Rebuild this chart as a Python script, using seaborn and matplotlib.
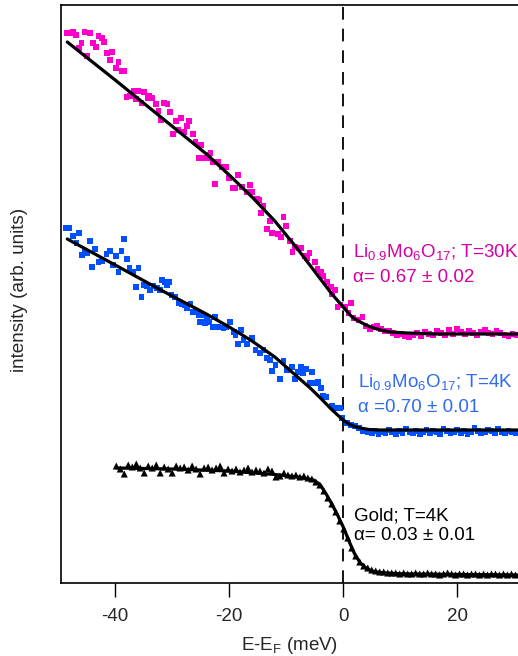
import matplotlib
matplotlib.use("Agg")
import matplotlib.pyplot as plt
import seaborn as sns

# ------------------------------------------------------------
# Data (E - E_F in meV, intensity in arb. units)
# ------------------------------------------------------------

# Li0.9Mo6O17, T=30K (magenta squares)
mag_e = [-48.5, -47.9, -47.4, -46.9, -46.4, -45.9, -45.4, -44.9, -44.4, -43.9,
         -43.4, -42.9, -42.3, -41.9, -41.4, -40.9, -40.5, -39.9, -39.4, -38.8,
         -38.4, -38.0, -37.4, -36.8, -36.4, -35.9, -35.4, -34.9, -34.3, -34.0,
         -33.5, -32.9, -32.4, -31.9, -31.4, -30.8, -30.4, -29.9, -29.3, -28.9,
         -28.4, -27.9, -27.4, -27.0, -26.4, -25.9, -25.4, -24.9, -24.4, -23.9,
         -23.6, -23.3, -22.9, -22.5, -21.9, -21.3, -20.5, -20.0, -19.4, -18.9,
         -18.5, -17.8, -16.9, -16.4, -15.9, -15.1, -14.7, -14.4, -14.0, -13.4,
         -12.9, -12.5, -11.5, -10.9, -10.5, -10.0, -9.4, -8.9, -8.4, -7.8,
         -7.4, -6.7, -6.3, -5.9, -5.0, -4.5, -3.9, -3.5, -2.9, -2.1,
         -2.0, -1.4, -1.0, -0.5, 0.4, 0.9, 1.3, 1.8, 2.7, 3.4,
         3.9, 4.7, 5.3, 5.9, 6.6, 7.3, 8.0, 8.7, 9.4, 10.1,
         10.8, 11.5, 12.2, 12.9, 13.6, 14.3, 15.0, 15.7, 16.4, 17.1,
         17.8, 18.5, 19.2, 19.9, 20.6, 21.3, 22.0, 22.7, 23.4, 24.1,
         24.8, 25.5, 26.2, 26.9, 27.6, 28.3, 29.0, 29.7, 30.4]
mag_i = [550, 550, 551, 548, 535, 540, 551, 527, 550, 540,
         536, 547, 545, 541, 530, 523, 531, 515, 521, 512,
         512, 486, 487, 492, 484, 492, 480, 491, 485, 487,
         485, 479, 472, 463, 480, 479, 471, 449, 462, 453,
         465, 451, 457, 462, 449, 441, 425, 438, 425, 425,
         428, 430, 421, 399, 421, 416, 416, 405, 395, 395,
         408, 396, 391, 398, 391, 384, 383, 370, 377, 354,
         362, 350, 349, 346, 366, 357, 342, 331, 336, 335,
         335, 327, 325, 330, 321, 314, 311, 307, 301, 296,
         289, 293, 276, 278, 276, 270, 280, 265, 263, 266,
         257, 254, 256, 257, 254, 252, 252, 250, 248, 249,
         247, 246, 248, 250, 247, 251, 249, 248, 252, 250,
         248, 253, 249, 254, 251, 249, 252, 250, 248, 251,
         253, 250, 249, 252, 250, 248, 247, 249, 248]
mag_fit_e = [-48.4, -40.0, -32.0, -24.0, -20.0, -16.0, -12.0, -8.0, -4.0, -2.0,
             0.0, 1.2, 2.0, 3.0, 4.0, 5.3, 6.5, 8.3, 11.2, 16.0, 22.0, 30.7]
mag_fit_i = [541, 503, 466, 429, 408, 386, 362, 334, 304, 289,
             276, 268, 264, 261, 258, 255, 253, 251, 250, 249, 249, 249]

# Li0.9Mo6O17, T=4K (blue squares)
blue_e = [-48.6, -48.0, -47.4, -46.8, -46.4, -45.8, -45.4, -45.0, -44.4, -44.0,
          -43.5, -42.9, -42.3, -41.5, -40.9, -40.4, -39.9, -39.4, -38.9, -38.4,
          -37.9, -37.5, -36.9, -36.4, -35.9, -35.4, -34.9, -34.4, -33.9, -33.3,
          -32.7, -32.2, -31.8, -31.2, -30.9, -30.5, -30.1, -29.5, -28.9, -28.3,
          -27.7, -27.4, -26.8, -26.4, -25.7, -25.4, -25.1, -24.8, -24.5, -24.2,
          -23.9, -23.6, -22.9, -22.5, -21.9, -21.0, -20.5, -19.9, -19.2, -18.9,
          -18.5, -17.9, -17.5, -16.9, -16.0, -15.4, -14.6, -14.0, -13.4, -12.8,
          -12.5, -11.9, -11.1, -10.5, -9.9, -9.0, -8.4, -8.0, -7.4, -7.0,
          -6.5, -5.9, -5.5, -4.9, -4.4, -3.9, -3.5, -3.0, -2.0, -1.4,
          -0.5, -0.2, 0.6, 1.3, 2.0, 2.8, 3.5, 4.4, 5.0, 5.6,
          6.2, 6.8, 7.4, 8.0, 8.6, 9.2, 9.8, 10.4, 11.0, 11.6,
          12.2, 12.8, 13.4, 14.0, 14.6, 15.2, 15.8, 16.4, 17.0, 17.6,
          18.2, 18.8, 19.4, 20.0, 20.6, 21.2, 21.8, 22.4, 23.0, 23.6,
          24.2, 24.8, 25.4, 26.0, 26.6, 27.2, 27.8, 28.4, 29.0, 29.6,
          30.2]
blue_i = [355, 355, 347, 340, 350, 328, 331, 330, 342, 316,
          334, 321, 322, 329, 332, 318, 327, 311, 332, 344,
          324, 315, 311, 296, 315, 286, 298, 297, 293, 297,
          295, 293, 303, 301, 298, 301, 288, 286, 280, 279,
          278, 275, 279, 271, 271, 268, 261, 268, 261, 260,
          265, 261, 256, 266, 256, 255, 256, 261, 251, 248,
          239, 253, 243, 239, 245, 233, 230, 233, 225, 223,
          212, 218, 204, 222, 213, 216, 204, 211, 216, 210,
          214, 200, 211, 200, 201, 195, 187, 186, 177, 175,
          175, 165, 160, 158, 157, 155, 152, 151, 150, 152,
          149, 151, 150, 153, 151, 149, 152, 150, 154, 151,
          150, 152, 149, 151, 153, 150, 152, 151, 149, 154,
          152, 150, 151, 153, 150, 152, 149, 151, 155, 152,
          150, 151, 153, 152, 150, 154, 151, 150, 152, 151,
          150]
blue_fit_e = [-48.4, -40.0, -32.0, -24.0, -20.0, -16.0, -12.0, -8.0, -5.8, -4.0,
              -2.3, -1.0, 0.0, 1.0, 2.0, 3.0, 4.5, 6.0, 30.7]
blue_fit_i = [344, 318, 293, 269, 256, 242, 226, 206, 195, 185,
              175, 168, 163, 159, 156.5, 155, 153.5, 153, 153]

# Gold, T=4K (black triangles)
gold_e = [-39.8, -39.1, -38.4, -37.7, -37.0, -36.3, -35.6, -34.9, -34.2, -33.5,
          -32.8, -32.1, -31.4, -30.7, -30.0, -29.3, -28.6, -27.9, -27.2, -26.5,
          -25.8, -25.1, -24.4, -23.7, -23.0, -22.3, -21.6, -20.9, -20.2, -19.5,
          -18.8, -18.1, -17.4, -16.7, -16.0, -15.3, -14.6, -13.9, -13.2, -12.5,
          -11.8, -11.1, -10.4, -9.7, -9.0, -8.3, -7.6, -6.9, -6.2, -5.5,
          -4.8, -4.1, -3.4, -2.7, -2.0, -1.3, -0.6, 0.1, 0.8, 1.5,
          2.2, 2.9, 3.6, 4.3, 5.0, 5.7, 6.4, 7.1, 7.8, 8.5,
          9.2, 9.9, 10.6, 11.3, 12.0, 12.7, 13.4, 14.1, 14.8, 15.5,
          16.2, 16.9, 17.6, 18.3, 19.0, 19.7, 20.4, 21.1, 21.8, 22.5,
          23.2, 23.9, 24.6, 25.3, 26.0, 26.7, 27.4, 28.1, 28.8, 29.5,
          30.2]
gold_i = [117, 114, 109, 118, 116, 119, 115, 110, 117, 115,
          118, 110, 116, 114, 110, 117, 115, 116, 113, 117,
          114, 109, 115, 116, 113, 115, 117, 110, 114, 112,
          114, 111, 113, 115, 111, 113, 112, 110, 114, 112,
          106, 107, 110, 108, 107, 108, 106, 107, 105, 104,
          101, 98, 92, 85, 79, 71, 62, 54, 45, 35,
          27, 21, 17, 15, 13, 12, 11, 11, 10, 10,
          10, 9, 10, 9, 9, 10, 9, 9, 10, 9,
          9, 8, 9, 10, 9, 8, 9, 9, 8, 9,
          9, 8, 9, 8, 9, 9, 8, 9, 8, 9,
          8]
gold_fit_e = [-39.7, -30.0, -20.0, -12.0, -8.0, -5.2, -4.0, -3.0, -2.0, -1.0,
              0.0, 1.0, 2.0, 3.0, 4.0, 5.0, 6.5, 9.0, 12.0, 30.7]
gold_fit_i = [115, 114, 112, 108.5, 106, 103, 98, 89, 79, 68,
              56, 42, 29, 20, 15, 12, 10.5, 9.5, 9, 8]

labels = [("Li$_{0.9}$Mo$_6$O$_{17}$; T=30K", "\u03b1= 0.67 \u00b1 0.02"),
          ("Li$_{0.9}$Mo$_6$O$_{17}$; T=4K", "\u03b1 =0.70 \u00b1 0.01"),
          ("Gold; T=4K", "\u03b1= 0.03 \u00b1 0.01")]

magenta = "#FF00CC"
blue = "#0050FF"
magenta_txt = "#D4009F"
blue_txt = "#2E6BF0"

# ------------------------------------------------------------
sns.set_style("ticks")
plt.rcParams["font.family"] = ["Liberation Sans", "DejaVu Sans"]
plt.rcParams["mathtext.fontset"] = "custom"
plt.rcParams["mathtext.rm"] = "Liberation Sans"
plt.rcParams["mathtext.default"] = "regular"
plt.rcParams["axes.unicode_minus"] = False

fig = plt.figure(figsize=(5.18, 6.56), dpi=100)
ax = fig.add_axes([61 / 518, 73 / 656, 457 / 518, 578 / 656])

ax.axvline(0, color="black", lw=1.3, dashes=(7, 5), zorder=1)

sns.scatterplot(x=mag_e, y=mag_i, marker="s", s=17, color=magenta,
                edgecolor="none", linewidth=0, ax=ax, zorder=2)
sns.scatterplot(x=blue_e, y=blue_i, marker="s", s=17, color=blue,
                edgecolor="none", linewidth=0, ax=ax, zorder=2)
sns.scatterplot(x=gold_e, y=gold_i, marker="^", s=26, color="black",
                edgecolor="none", linewidth=0, ax=ax, zorder=2)

for fe, fi in [(mag_fit_e, mag_fit_i), (blue_fit_e, blue_fit_i), (gold_fit_e, gold_fit_i)]:
    sns.lineplot(x=fe, y=fi, color="black", lw=2.3, estimator=None, sort=False,
                 ax=ax, zorder=3)

# annotations
fs = 13.5
ax.text(1.7, 331, labels[0][0], color=magenta_txt, fontsize=fs, va="center")
ax.text(1.7, 306, labels[0][1], color=magenta_txt, fontsize=fs, va="center")
ax.text(2.6, 201, labels[1][0], color=blue_txt, fontsize=fs, va="center")
ax.text(2.6, 175, labels[1][1], color=blue_txt, fontsize=fs, va="center")
ax.text(1.9, 67, labels[2][0], color="black", fontsize=fs, va="center")
ax.text(1.9, 47, labels[2][1], color="black", fontsize=fs, va="center")

ax.set_xlim(-49.5, 30.65)
ax.set_ylim(0, 578)
ax.set_xticks([-40, -20, 0, 20])
ax.set_yticks([])
ax.tick_params(axis="x", direction="out", length=10, width=1, labelsize=13.5,
               pad=8, color="black")
ax.spines["right"].set_visible(False)
for side in ["left", "bottom", "top"]:
    ax.spines[side].set_linewidth(1.2)
    ax.spines[side].set_color("black")

ax.set_xlabel("E-E$_F$ (meV)", fontsize=13.5, labelpad=7)
ax.set_ylabel("intensity (arb. units)", fontsize=13.6)
ax.yaxis.set_label_coords(-0.072, 0.507)

fig.savefig("out.png", dpi=100)
